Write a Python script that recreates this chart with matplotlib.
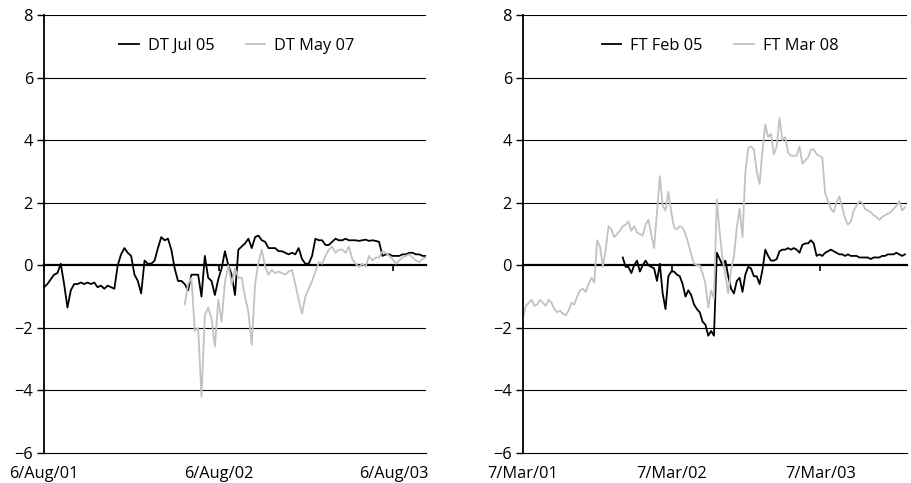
import numpy as np
import pandas as pd
import matplotlib
matplotlib.use('Agg')
import matplotlib.pyplot as plt

plt.rcParams['font.family'] = ['Open Sans', 'DejaVu Sans']
plt.rcParams['font.size'] = 11.8

# weekly readings, left panel (DT)
dt_dates = pd.date_range('2001-08-06', periods=115, freq='7D')
dt_jul05 = [
    -0.7, -0.6, -0.45, -0.3, -0.25, 0.05, -0.6, -1.35, -0.8, -0.6,
    -0.6, -0.55, -0.6, -0.55, -0.6, -0.55, -0.7, -0.65, -0.75, -0.65,
    -0.7, -0.75, 0.0, 0.35, 0.55, 0.4, 0.3, -0.3, -0.5, -0.9,
    0.15, 0.05, 0.05, 0.15, 0.55, 0.9, 0.8, 0.85, 0.5, -0.1,
    -0.5, -0.5, -0.6, -0.8, -0.3, -0.3, -0.3, -1.0, 0.3, -0.4,
    -0.5, -0.95, -0.45, -0.1, 0.45, 0.0, -0.3, -0.95, 0.5, 0.6,
    0.7, 0.85, 0.55, 0.9, 0.95, 0.8, 0.75, 0.55, 0.55, 0.55,
    0.45, 0.45, 0.4, 0.35, 0.4, 0.35, 0.55, 0.2, 0.05, 0.05,
    0.3, 0.85, 0.8, 0.8, 0.65, 0.65, 0.75, 0.85, 0.8, 0.8,
    0.85, 0.8, 0.8, 0.8, 0.78, 0.8, 0.82, 0.78, 0.8, 0.78,
    0.75, 0.3, 0.35, 0.35, 0.3, 0.3, 0.3, 0.35, 0.35, 0.4,
    0.4, 0.35, 0.35, 0.3, 0.3,
]
dt_may07 = [np.nan] * 42 + [
    -1.25, -0.6, -0.4, -2.1, -2.0, -4.2, -1.6, -1.35, -1.7, -2.6,
    -1.1, -1.8, -0.55, 0.0, -0.6, -0.1, -0.4, -0.4, -1.0, -1.5,
    -2.55, -0.6, 0.1, 0.5, -0.05, -0.3, -0.15, -0.25, -0.2, -0.25,
    -0.3, -0.2, -0.15, -0.6, -1.1, -1.55, -1.0, -0.75, -0.5, -0.2,
    0.1, 0.05, 0.3, 0.5, 0.6, 0.4, 0.5, 0.5, 0.4, 0.6,
    0.2, 0.05, -0.05, 0.05, -0.05, 0.3, 0.15, 0.25, 0.25, 0.45,
    0.4, 0.3, 0.2, 0.05, 0.15, 0.25, 0.3, 0.35, 0.25, 0.15,
    0.1, 0.2, 0.25,
]

# weekly readings, right panel (FT)
ft_dates = pd.date_range('2001-03-07', periods=135, freq='7D')
ft_feb05 = [np.nan] * 35 + [
    0.25, -0.05, -0.05, -0.25, 0.0, 0.15, -0.2, 0.0, 0.15, 0.0,
    -0.05, -0.1, -0.5, 0.05, -0.9, -1.4, -0.35, -0.2, -0.2, -0.3,
    -0.35, -0.6, -1.0, -0.8, -0.95, -1.25, -1.4, -1.5, -1.8, -1.9,
    -2.25, -2.1, -2.25, 0.4, 0.2, 0.0, 0.15, -0.35, -0.75, -0.9,
    -0.5, -0.4, -0.85, -0.3, -0.05, -0.1, -0.35, -0.35, -0.6, -0.15,
    0.5, 0.3, 0.15, 0.15, 0.2, 0.45, 0.5, 0.5, 0.55, 0.5,
    0.55, 0.5, 0.4, 0.65, 0.7, 0.7, 0.8, 0.7, 0.3, 0.35,
    0.3, 0.4, 0.45, 0.5, 0.45, 0.4, 0.35, 0.35, 0.3, 0.35,
    0.3, 0.3, 0.3, 0.25, 0.25, 0.25, 0.25, 0.2, 0.25, 0.25,
    0.25, 0.3, 0.3, 0.35, 0.35, 0.35, 0.4, 0.35, 0.3, 0.35,
]
ft_mar08 = [
    -1.65, -1.3, -1.2, -1.1, -1.3, -1.25, -1.1, -1.2, -1.3, -1.1,
    -1.2, -1.4, -1.5, -1.45, -1.55, -1.6, -1.45, -1.2, -1.25, -1.0,
    -0.8, -0.75, -0.85, -0.6, -0.4, -0.55, 0.8, 0.6, -0.05, 0.5,
    1.25, 1.15, 0.9, 1.0, 1.1, 1.25, 1.3, 1.4, 1.1, 1.25,
    1.05, 1.0, 0.95, 1.3, 1.45, 1.0, 0.55, 1.7, 2.85, 1.9,
    1.75, 2.35, 1.7, 1.2, 1.15, 1.25, 1.2, 1.0, 0.7, 0.35,
    0.05, 0.0, 0.0, -0.25, -0.6, -1.35, -0.8, -1.05, 2.1, 1.05,
    0.2, -0.3, -0.9, -0.15, 0.3, 1.2, 1.8, 0.9, 2.95, 3.75,
    3.8, 3.7, 3.0, 2.6, 3.65, 4.5, 4.1, 4.2, 3.55, 3.8,
    4.7, 4.0, 4.1, 3.6, 3.5, 3.5, 3.5, 3.8, 3.25, 3.35,
    3.45, 3.7, 3.7, 3.55, 3.5, 3.45, 2.3, 2.05, 1.8, 1.7,
    2.0, 2.2, 1.85, 1.5, 1.3, 1.4, 1.75, 1.9, 2.05, 2.0,
    1.8, 1.75, 1.7, 1.6, 1.55, 1.45, 1.55, 1.6, 1.65, 1.7,
    1.8, 1.9, 2.05, 1.75, 1.85,
]

dt_ticks = ['2001-08-06', '2002-08-06', '2003-08-06']
dt_ticklabels = ['6/Aug/01', '6/Aug/02', '6/Aug/03']
ft_ticks = ['2001-03-07', '2002-03-07', '2003-03-07']
ft_ticklabels = ['7/Mar/01', '7/Mar/02', '7/Mar/03']

panels = [
    dict(dates=dt_dates, black=dt_jul05, grey=dt_may07,
         names=('DT Jul 05', 'DT May 07'), ticks=dt_ticks, labels=dt_ticklabels,
         xlim=('2001-08-06', '2003-10-13'), rect=[0.0483, 0.0621, 0.4193, 0.9068],
         legx=0.505),
    dict(dates=ft_dates, black=ft_feb05, grey=ft_mar08,
         names=('FT Feb 05', 'FT Mar 08'), ticks=ft_ticks, labels=ft_ticklabels,
         xlim=('2001-03-07', '2003-10-06'), rect=[0.5741, 0.0621, 0.4215, 0.9068],
         legx=0.513),
]

fig = plt.figure(figsize=(9.11, 4.83), dpi=100)

for p in panels:
    ax = fig.add_axes(p['rect'])
    ax.plot(p['dates'], np.array(p['black'], dtype=float), color='black', lw=1.3, label=p['names'][0])
    ax.plot(p['dates'], np.array(p['grey'], dtype=float), color='#c2c2c2', lw=1.3, label=p['names'][1])

    ax.set_ylim(-6, 8)
    ax.set_yticks(range(-6, 9, 2))
    ax.set_xlim(pd.Timestamp(p['xlim'][0]), pd.Timestamp(p['xlim'][1]))
    ticks = [pd.Timestamp(t) for t in p['ticks']]
    ax.set_xticks(ticks)
    ax.set_xticklabels(p['labels'])
    ax.tick_params(axis='x', length=0, pad=9)
    ax.tick_params(axis='y', direction='out', length=5, width=1, pad=3)

    for v in range(-4, 9, 2):
        if v != 0:
            ax.axhline(v, color='black', lw=0.8, zorder=0)

    for s in ['top', 'right']:
        ax.spines[s].set_visible(False)
    ax.spines['left'].set_linewidth(1.3)
    ax.spines['bottom'].set_linewidth(0.8)

    # horizontal axis crossing at zero, with downward ticks
    zero = ax.secondary_xaxis(6 / 14)
    zero.set_xticks(ticks)
    zero.tick_params(axis='x', direction='out', length=4, width=1.2, labelbottom=False)
    zero.spines['bottom'].set_linewidth(1.6)

    ax.legend(loc='center', bbox_to_anchor=(p['legx'], 0.93), ncol=2, frameon=False,
              handlelength=1.2, columnspacing=1.9, handletextpad=0.55)

fig.savefig('out.png', dpi=100)
